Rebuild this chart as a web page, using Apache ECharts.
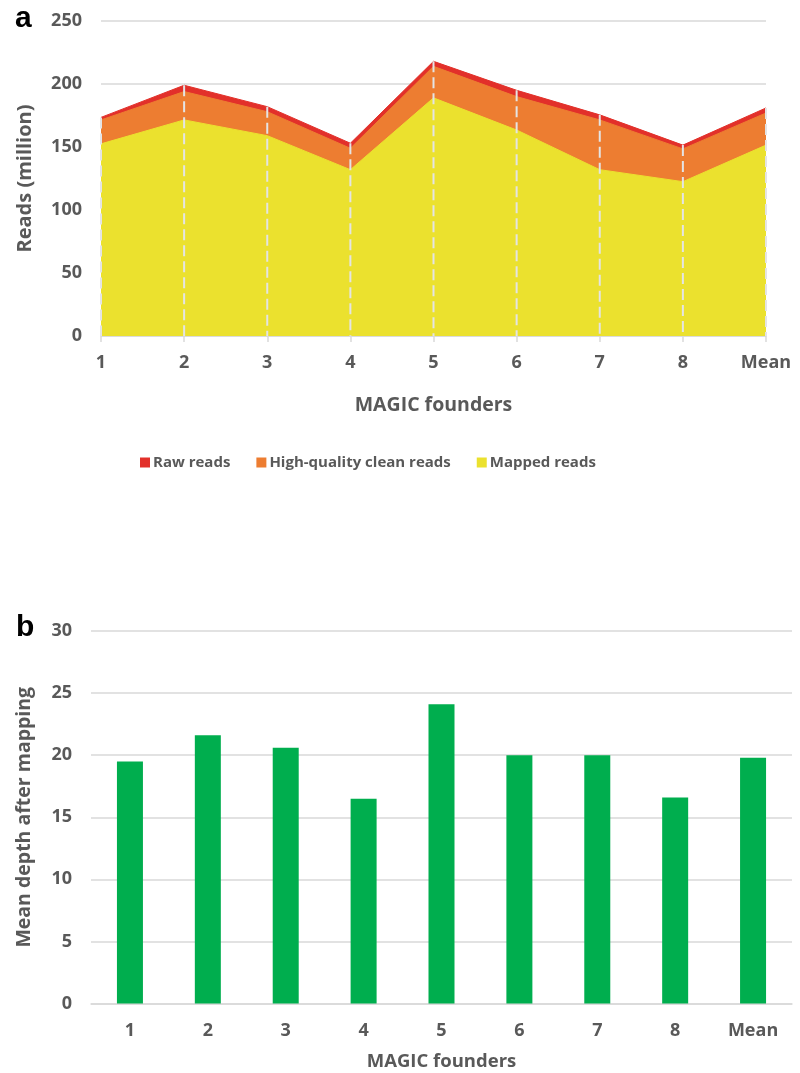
<!DOCTYPE html>
<html>
<head>
<meta charset="utf-8">
<script src="https://cdn.jsdelivr.net/npm/echarts@6/dist/echarts.min.js"></script>
<style>
html,body{margin:0;padding:0;background:#fff;}
#chart{width:800px;height:1073px;}
</style>
</head>
<body>
<div id="chart"></div>
<script>
var categories = ['1','2','3','4','5','6','7','8','Mean'];
var rawReads = [173.5, 199, 182, 153, 218, 195, 175.5, 151.5, 181];
var cleanReads = [171.5, 194, 178, 149, 214, 190, 171.5, 148.5, 177];
var mappedReads = [152.5, 171.5, 159, 132, 189, 163.5, 132, 122.5, 151.5];
var meanDepth = [19.5, 21.6, 20.6, 16.5, 24.1, 20.0, 20.0, 16.6, 19.8];
var readsTicks = [0, 50, 100, 150, 200, 250];
var depthTicks = [0, 5, 10, 15, 20, 25, 30];

var FONT = 'Open Sans';
var GREY = '#595959';
var GRID = '#d9d9d9';

var chart = echarts.init(document.getElementById('chart'));
var option = {
  animation: false,
  backgroundColor: '#fff',
  textStyle: {fontFamily: FONT},
  title: [
    {text: 'a', left: 10, top: -1, textStyle: {fontFamily: 'Liberation Sans', fontSize: 30, fontWeight: 'bold', color: '#000'}},
    {text: 'b', left: 11, top: 608, textStyle: {fontFamily: 'Liberation Sans', fontSize: 30, fontWeight: 'bold', color: '#000'}}
  ],
  legend: {
    data: ['Raw reads', 'High-quality clean reads', 'Mapped reads'],
    left: 135, top: 450,
    icon: 'rect', itemWidth: 10, itemHeight: 10, itemGap: 26,
    textStyle: {fontFamily: FONT, fontSize: 15, fontWeight: 'bold', color: GREY, padding: [0,0,0,-2]}
  },
  grid: [
    {left: 101, right: 34, top: 21, height: 315},
    {left: 91, right: 8, top: 631, height: 372.5}
  ],
  xAxis: [
    {
      gridIndex: 0, type: 'category', data: categories, boundaryGap: false,
      axisLine: {lineStyle: {color: GRID, width: 1.5}},
      axisTick: {show: true, length: 6, lineStyle: {color: GRID, width: 1.5}},
      axisLabel: {fontFamily: FONT, fontSize: 18, fontWeight: 'bold', color: GREY, margin: 18},
      splitLine: {show: false},
      name: 'MAGIC founders', nameLocation: 'middle', nameGap: 59,
      nameTextStyle: {fontFamily: FONT, fontSize: 19.5, fontWeight: 'bold', color: GREY}
    },
    {
      gridIndex: 1, type: 'category', data: categories, boundaryGap: true,
      axisLine: {lineStyle: {color: GRID, width: 1.5}},
      axisTick: {show: false},
      axisLabel: {fontFamily: FONT, fontSize: 18, fontWeight: 'bold', color: GREY, margin: 18},
      name: 'MAGIC founders', nameLocation: 'middle', nameGap: 49,
      nameTextStyle: {fontFamily: FONT, fontSize: 18.5, fontWeight: 'bold', color: GREY}
    }
  ],
  yAxis: [
    {
      gridIndex: 0, type: 'value', min: readsTicks[0], max: readsTicks[readsTicks.length-1], interval: 50,
      axisLine: {show: false}, axisTick: {show: false},
      axisLabel: {fontFamily: FONT, fontSize: 18, fontWeight: 'bold', color: GREY, margin: 19},
      splitLine: {lineStyle: {color: GRID, width: 1.5}},
      name: 'Reads (million)', nameLocation: 'middle', nameGap: 66,
      nameTextStyle: {fontFamily: FONT, fontSize: 20, fontWeight: 'bold', color: GREY}
    },
    {
      gridIndex: 1, type: 'value', min: depthTicks[0], max: depthTicks[depthTicks.length-1], interval: 5,
      axisLine: {show: false}, axisTick: {show: false},
      axisLabel: {fontFamily: FONT, fontSize: 18, fontWeight: 'bold', color: GREY, margin: 19},
      splitLine: {lineStyle: {color: GRID, width: 1.5}},
      name: 'Mean depth after mapping', nameLocation: 'middle', nameGap: 57,
      nameTextStyle: {fontFamily: FONT, fontSize: 19.5, fontWeight: 'bold', color: GREY}
    }
  ],
  series: [
    {
      name: 'Raw reads', type: 'line', xAxisIndex: 0, yAxisIndex: 0, data: rawReads,
      showSymbol: false, symbol: 'none', z: 2,
      itemStyle: {color: '#e2302a'},
      lineStyle: {color: '#e2302a', width: 1},
      areaStyle: {color: '#e2302a', opacity: 1}
    },
    {
      name: 'High-quality clean reads', type: 'line', xAxisIndex: 0, yAxisIndex: 0, data: cleanReads,
      showSymbol: false, symbol: 'none', z: 3,
      itemStyle: {color: '#ed7d31'},
      lineStyle: {color: '#ed7d31', width: 1},
      areaStyle: {color: '#ed7d31', opacity: 1}
    },
    {
      name: 'Mapped reads', type: 'line', xAxisIndex: 0, yAxisIndex: 0, data: mappedReads,
      showSymbol: false, symbol: 'none', z: 4,
      itemStyle: {color: '#ebe12e'},
      lineStyle: {color: '#ebe12e', width: 1},
      areaStyle: {color: '#ebe12e', opacity: 1}
    },
    {
      name: 'dropLines', type: 'custom', xAxisIndex: 0, yAxisIndex: 0, z: 5,
      data: rawReads.map(function(v, i){ return [i, v]; }),
      renderItem: function(params, api) {
        var top = api.coord([api.value(0), api.value(1)]);
        var bot = api.coord([api.value(0), 0]);
        return {
          type: 'line',
          shape: {x1: top[0], y1: top[1], x2: bot[0], y2: bot[1]},
          style: {stroke: '#e4e4e4', lineWidth: 2, lineDash: [11, 5]}
        };
      },
      silent: true
    },
    {
      name: 'Mean depth', type: 'bar', xAxisIndex: 1, yAxisIndex: 1, data: meanDepth,
      barWidth: 26, itemStyle: {color: '#00ae4e'}
    }
  ]
};
chart.setOption(option);
</script>
</body>
</html>
